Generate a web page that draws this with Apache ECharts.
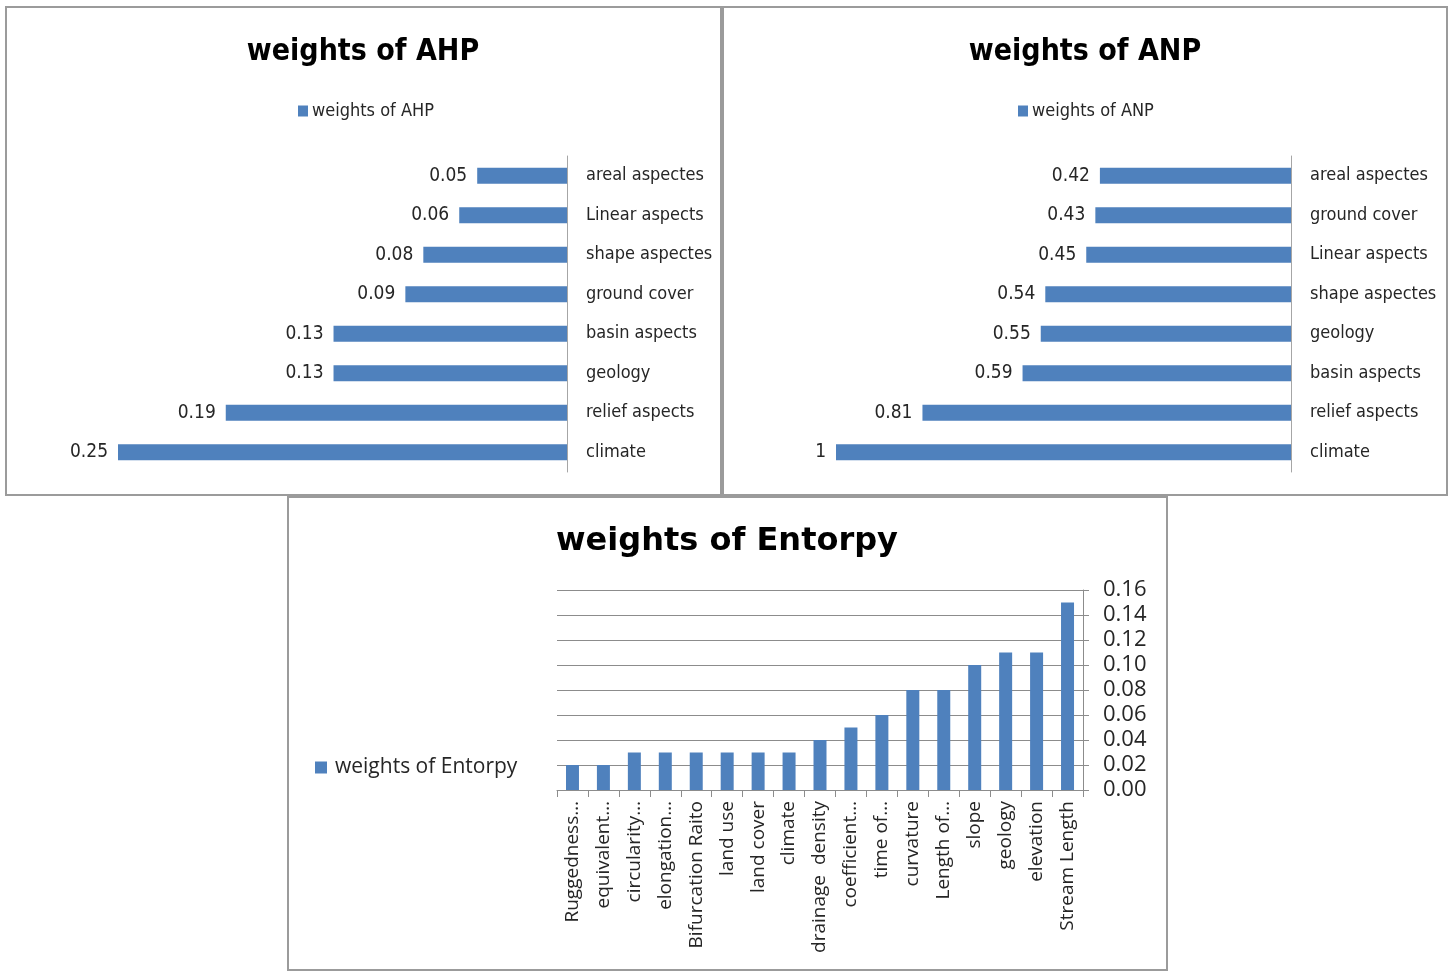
<!DOCTYPE html>
<html>
<head>
<meta charset="utf-8">
<title>weights of AHP / ANP / Entorpy</title>
<script src="https://cdn.jsdelivr.net/npm/echarts@6/dist/echarts.min.js"></script>
<style>
  html, body { margin: 0; padding: 0; background: #ffffff; overflow: hidden; }
  #chart { width: 1455px; height: 971px; }
</style>
</head>
<body>
<div id="chart"></div>
<script>
// AHP weights, listed top to bottom as drawn
const ahpCategories = ['areal aspectes', 'Linear aspects', 'shape aspectes', 'ground cover',
  'basin aspects', 'geology', 'relief aspects', 'climate'];
const ahpValues = [0.05, 0.06, 0.08, 0.09, 0.13, 0.13, 0.19, 0.25];

// ANP weights, listed top to bottom as drawn
const anpCategories = ['areal aspectes', 'ground cover', 'Linear aspects', 'shape aspectes',
  'geology', 'basin aspects', 'relief aspects', 'climate'];
const anpValues = [0.42, 0.43, 0.45, 0.54, 0.55, 0.59, 0.81, 1];

// Entropy weights, left to right
const entropyCategories = ['Ruggedness…', 'equivalent…', 'circularity…', 'elongation…',
  'Bifurcation Raito', 'land use', 'land cover', 'climate', 'drainage  density',
  'coefficient…', 'time of…', 'curvature', 'Length of…', 'slope', 'geology',
  'elevation', 'Stream Length'];
const entropyValues = [0.02, 0.02, 0.03, 0.03, 0.03, 0.03, 0.03, 0.03, 0.04,
  0.05, 0.06, 0.08, 0.08, 0.10, 0.11, 0.11, 0.15];

const BLUE = '#4F81BD';
const NARROW = "'DejaVu Sans Condensed', 'Liberation Sans Narrow', 'Roboto', sans-serif";
const WIDE = "'Open Sans', 'DejaVu Sans', sans-serif";
const TEXT = '#262626';

const chart = echarts.init(document.getElementById('chart'), null, { renderer: 'canvas' });

// thin grey frame around each of the three panels
function frame(x, y, w, h) {
  return {
    type: 'rect', silent: true, z: 100,
    shape: { x: x, y: y, width: w, height: h },
    style: { fill: 'none', stroke: '#9b9b9b', lineWidth: 2 }
  };
}

const option = {
  animation: false,
  backgroundColor: '#ffffff',
  graphic: [
    frame(6, 7, 715, 488),
    frame(723, 7, 724, 488),
    frame(288, 497, 879, 473)
  ],
  title: [
    { text: 'weights of AHP', left: 363, top: 37, textAlign: 'center', padding: 0,
      textStyle: { fontFamily: NARROW, fontSize: 30, fontWeight: 'bold', color: '#000' } },
    { text: 'weights of ANP', left: 1085, top: 37, textAlign: 'center', padding: 0,
      textStyle: { fontFamily: NARROW, fontSize: 30, fontWeight: 'bold', color: '#000' } },
    { text: 'weights of Entorpy', left: 727, top: 526, textAlign: 'center', padding: 0,
      textStyle: { fontFamily: "'DejaVu Sans', sans-serif", fontSize: 32, fontWeight: 'bold', color: '#000' } }
  ],
  legend: [
    { data: ['weights of AHP'], left: 298, top: 102, padding: 0, icon: 'rect',
      itemWidth: 10, itemHeight: 11, itemGap: 5,
      textStyle: { fontFamily: NARROW, fontSize: 18, color: TEXT, padding: [0, 0, 0, -1] } },
    { data: ['weights of ANP'], left: 1018, top: 102, padding: 0, icon: 'rect',
      itemWidth: 10, itemHeight: 11, itemGap: 5,
      textStyle: { fontFamily: NARROW, fontSize: 18, color: TEXT, padding: [0, 0, 0, -1] } },
    { data: ['weights of Entorpy'], left: 315, top: 757, padding: 0, icon: 'rect',
      itemWidth: 12, itemHeight: 12, itemGap: 5,
      textStyle: { fontFamily: WIDE, fontSize: 21, color: TEXT, padding: [0, 0, 0, 3] } }
  ],
  grid: [
    { left: 118, width: 449, top: 156, height: 316 },
    { left: 836, width: 455, top: 156, height: 316 },
    { left: 557, width: 526, top: 590, height: 200 }
  ],
  xAxis: [
    { type: 'value', gridIndex: 0, min: 0, max: 0.25, inverse: true, show: false },
    { type: 'value', gridIndex: 1, min: 0, max: 1, inverse: true, show: false },
    { type: 'category', gridIndex: 2, data: entropyCategories,
      axisLine: { lineStyle: { color: '#8c8c8c', width: 1 } },
      axisTick: { show: true, length: 7, lineStyle: { color: '#8c8c8c' } },
      axisLabel: { interval: 0, rotate: 90, margin: 11,
        fontFamily: WIDE, fontSize: 19, color: TEXT } }
  ],
  yAxis: [
    { type: 'category', gridIndex: 0, data: ahpCategories, inverse: true, position: 'right',
      axisLine: { onZero: false, lineStyle: { color: '#a6a6a6', width: 1 } },
      axisTick: { show: false },
      axisLabel: { margin: 19, fontFamily: NARROW, fontSize: 18, color: TEXT } },
    { type: 'category', gridIndex: 1, data: anpCategories, inverse: true, position: 'right',
      axisLine: { onZero: false, lineStyle: { color: '#a6a6a6', width: 1 } },
      axisTick: { show: false },
      axisLabel: { margin: 19, fontFamily: NARROW, fontSize: 18, color: TEXT } },
    { type: 'value', gridIndex: 2, position: 'right', min: 0, max: 0.16, interval: 0.02,
      axisLine: { show: true, lineStyle: { color: '#8c8c8c', width: 1 } },
      axisTick: { show: true, length: 6, lineStyle: { color: '#8c8c8c' } },
      splitLine: { show: true, lineStyle: { color: '#8c8c8c', width: 1 } },
      axisLabel: { margin: 20, fontFamily: WIDE, fontSize: 22, color: TEXT,
        formatter: v => v.toFixed(2) } }
  ],
  series: [
    { name: 'weights of AHP', type: 'bar', xAxisIndex: 0, yAxisIndex: 0,
      data: ahpValues, barWidth: 16, itemStyle: { color: BLUE },
      label: { show: true, position: 'left', distance: 10,
        fontFamily: NARROW, fontSize: 19, color: TEXT } },
    { name: 'weights of ANP', type: 'bar', xAxisIndex: 1, yAxisIndex: 1,
      data: anpValues, barWidth: 16, itemStyle: { color: BLUE },
      label: { show: true, position: 'left', distance: 10,
        fontFamily: NARROW, fontSize: 19, color: TEXT } },
    { name: 'weights of Entorpy', type: 'bar', xAxisIndex: 2, yAxisIndex: 2,
      data: entropyValues, barWidth: 13, itemStyle: { color: BLUE } }
  ]
};

chart.setOption(option);
</script>
</body>
</html>
